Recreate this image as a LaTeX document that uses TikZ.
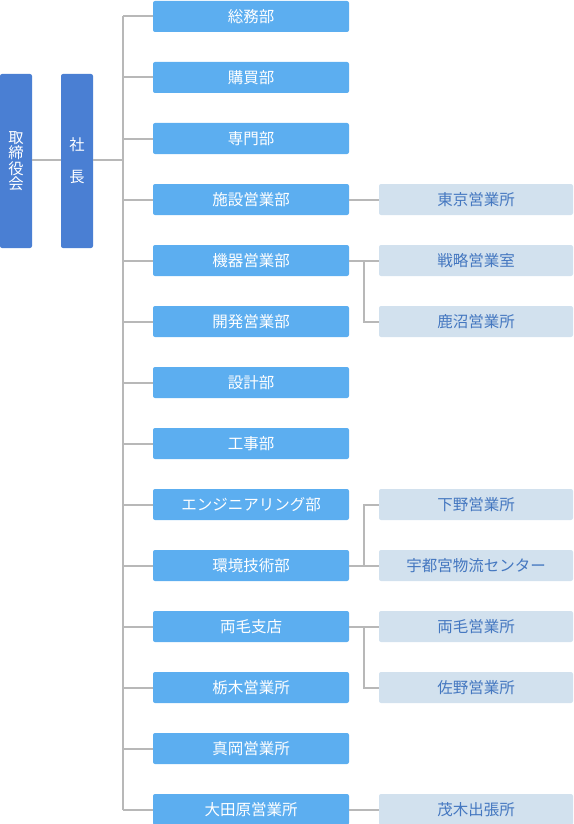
\documentclass[tikz,border=0pt]{standalone}
\usepackage{fontspec}
\newfontfamily\jp{Noto Sans CJK JP}
\definecolor{topblue}{HTML}{4A7FD3}
\definecolor{midblue}{HTML}{5CAEF0}
\definecolor{subbg}{HTML}{D2E1EE}
\definecolor{subtext}{HTML}{4477C0}
\definecolor{linegray}{HTML}{B8B8B8}
\tikzset{
  topbox/.style={fill=topblue, rounded corners=2pt, minimum width=32pt, minimum height=174pt, inner sep=0pt, text=white, align=center, font=\jp\fontsize{15.3}{15.5}\selectfont},
  midbox/.style={fill=midblue, rounded corners=2pt, minimum width=196pt, minimum height=31pt, inner sep=0pt, text=white, font=\jp\fontsize{15.5}{16}\selectfont},
  subbox/.style={fill=subbg, rounded corners=2pt, minimum width=194pt, minimum height=31pt, inner sep=0pt, text=subtext, font=\jp\fontsize{15.5}{16}\selectfont},
  conn/.style={draw=linegray, line width=2pt}
}
\begin{document}
\begin{tikzpicture}[x=1pt,y=-1pt]
\useasboundingbox (0,0) rectangle (573,824);
\node[topbox] (bod) at (16,161) {取\\締\\役\\会};
\node[topbox, font=\jp\fontsize{15.3}{32}\selectfont] (pres) at (77,161) {社\\長};
% middle column
\foreach \i/\t in {0/総務部,1/購買部,2/専門部,3/施設営業部,4/機器営業部,5/開発営業部,6/設計部,7/工事部,8/エンジニアリング部,9/環境技術部,10/両毛支店,11/栃木営業所,12/真岡営業所,13/大田原営業所}{
  \node[midbox] (m\i) at (251,16.5+61*\i) {\t};
  \coordinate (b\i) at (123,16.5+61*\i);
}
% right column
\node[subbox] (s3) at (476,16.5+61*3) {東京営業所};
\node[subbox] (s4) at (476,16.5+61*4) {戦略営業室};
\node[subbox] (s5) at (476,16.5+61*5) {鹿沼営業所};
\node[subbox] (s8) at (476,16.5+61*8) {下野営業所};
\node[subbox] (s9) at (476,16.5+61*9) {宇都宮物流センター};
\node[subbox] (s10) at (476,16.5+61*10) {両毛営業所};
\node[subbox] (s11) at (476,16.5+61*11) {佐野営業所};
\node[subbox] (s13) at (476,16.5+61*13) {茂木出張所};
% connectors
\draw[conn] (bod.east |- 0,160) -- (pres.west |- 0,160);
\draw[conn] (pres.east |- 0,160) -- (123,160);
\draw[conn] (b0) -- (b13);
\foreach \i in {0,...,13}{ \draw[conn] (b\i) -- (m\i.west); }
\draw[conn] (m3.east) -- (s3.west);
\draw[conn] (m13.east) -- (s13.west);
\coordinate (j4) at (364,16.5+61*4);
\coordinate (j5) at (364,16.5+61*5);
\draw[conn] (m4.east) -- (s4.west);
\draw[conn] (j4) -- (j5) -- (s5.west);
\coordinate (j8) at (364,16.5+61*8);
\coordinate (j9) at (364,16.5+61*9);
\draw[conn] (m9.east) -- (s9.west);
\draw[conn] (s8.west) -- (j8) -- (j9);
\coordinate (j10) at (364,16.5+61*10);
\coordinate (j11) at (364,16.5+61*11);
\draw[conn] (m10.east) -- (s10.west);
\draw[conn] (j10) -- (j11) -- (s11.west);
\end{tikzpicture}
\end{document}
